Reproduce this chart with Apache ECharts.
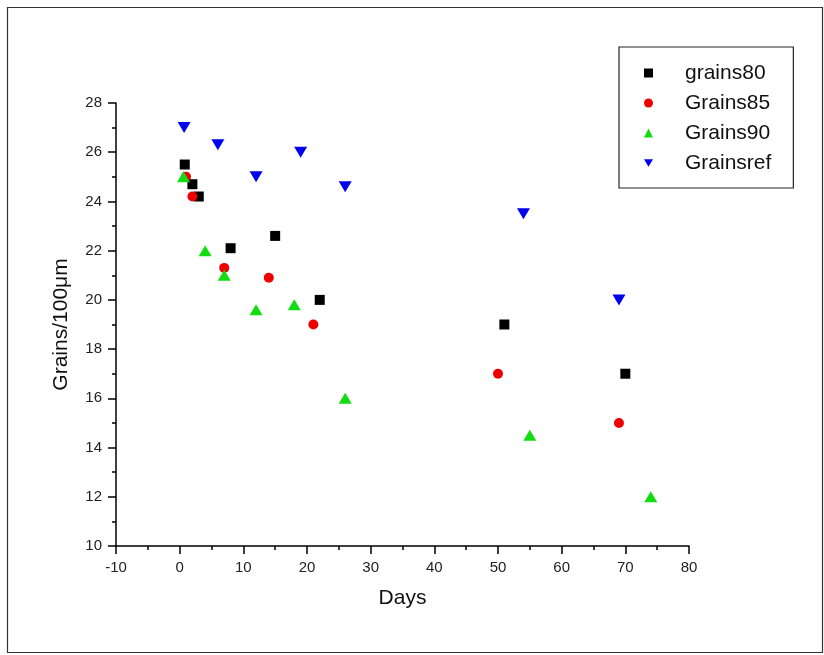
<!DOCTYPE html>
<html>
<head>
<meta charset="utf-8">
<script src="https://cdn.jsdelivr.net/npm/echarts@6/dist/echarts.min.js"></script>
<style>html,body{margin:0;padding:0;background:#fff;}#c{width:824px;height:655px;}</style>
</head>
<body>
<div id="c"></div>
<script>
const seriesNames = ['grains80', 'Grains85', 'Grains90', 'Grainsref'];
const grains80 = [[0.8, 25.5], [2, 24.7], [3, 24.2], [8, 22.1], [15, 22.6], [22, 20], [51, 19], [70, 17]];
const grains85 = [[1, 25], [2, 24.2], [7, 21.3], [14, 20.9], [21, 19], [50, 17], [69, 15]];
const grains90 = [[0.6, 25], [4, 22], [7, 21], [12, 19.6], [18, 19.8], [26, 16], [55, 14.5], [74, 12]];
const grainsref = [[0.7, 27], [6, 26.3], [12, 25], [19, 26], [26, 24.6], [54, 23.5], [69, 20]];
const xAxisName = 'Days';
const yAxisName = 'Grains/100μm';

const FONT = '"Liberation Sans", Arial, sans-serif';
const DOWN_TRI = 'path://M0,0L12,0L6,10Z';
const chart = echarts.init(document.getElementById('c'), null, {renderer: 'canvas'});

function axisCommon() {
  return {
    axisLine: {show: true, onZero: false, lineStyle: {color: '#000', width: 1.5}},
    axisTick: {show: true, inside: false, length: 8, lineStyle: {color: '#000', width: 1.5}},
    minorTick: {show: true, splitNumber: 2, length: 4, lineStyle: {color: '#000', width: 1.5}},
    splitLine: {show: false},
    axisLabel: {color: '#222', fontSize: 15, fontFamily: FONT, margin: 14},
    nameLocation: 'middle',
    nameTextStyle: {color: '#111', fontSize: 21, fontFamily: FONT}
  };
}

chart.setOption({
  backgroundColor: '#fff',
  animation: false,
  grid: {left: 116, right: 135, top: 103, bottom: 109, containLabel: false},
  xAxis: Object.assign(axisCommon(), {type: 'value', min: -10, max: 80, interval: 10, name: xAxisName, nameGap: 42}),
  yAxis: Object.assign(axisCommon(), {type: 'value', min: 10, max: 28, interval: 2, name: yAxisName, nameGap: 44}),
  legend: {
    orient: 'vertical', left: 619, top: 47,
    padding: [15, 22, 14, 25],
    itemWidth: 9, itemHeight: 9, itemGap: 8,
    borderColor: '#222', borderWidth: 1.2,
    textStyle: {fontSize: 21, fontFamily: FONT, color: '#111', lineHeight: 22, padding: [0, 0, 0, 27]},
    data: [
      {name: seriesNames[0]},
      {name: seriesNames[1]},
      {name: seriesNames[2]},
      {name: seriesNames[3], icon: DOWN_TRI}
    ]
  },
  graphic: [{
    type: 'rect', left: 5, top: 5, silent: true,
    shape: {width: 815, height: 645},
    style: {fill: 'none', stroke: '#333', lineWidth: 1.2}
  }],
  series: [
    {name: seriesNames[0], type: 'scatter', data: grains80, symbol: 'rect', symbolSize: 10, itemStyle: {color: '#000', opacity: 1}},
    {name: seriesNames[1], type: 'scatter', data: grains85, symbol: 'circle', symbolSize: 10, itemStyle: {color: '#ee0000', opacity: 1}},
    {name: seriesNames[2], type: 'scatter', data: grains90, symbol: 'triangle', symbolSize: [13, 11], itemStyle: {color: '#11dd11', opacity: 1}},
    {name: seriesNames[3], type: 'scatter', data: grainsref, symbol: DOWN_TRI, symbolSize: [13, 11], itemStyle: {color: '#0000ee', opacity: 1}}
  ]
});
</script>
</body>
</html>
